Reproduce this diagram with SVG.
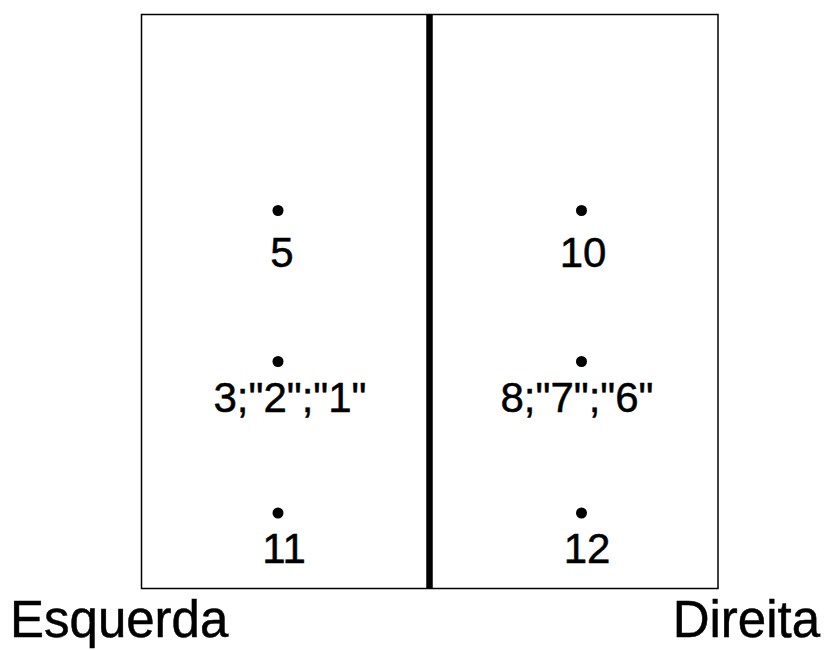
<svg xmlns="http://www.w3.org/2000/svg" width="827" height="650" viewBox="0 0 827 650">
<style>
.lbl{font-family:"Liberation Sans",Arial,sans-serif;font-size:42px;fill:#000;stroke:#000;stroke-width:0.5;text-anchor:middle}
.side{font-family:"Liberation Sans",Arial,sans-serif;font-size:51px;fill:#000;stroke:#000;stroke-width:0.5}
.dot{fill:#000}
</style>
<rect width="827" height="650" fill="#fff"/>
<g id="connectors">
<rect x="141.5" y="14.5" width="576.5" height="574" fill="none" stroke="#000" stroke-width="1.5"/>
<line x1="429.5" y1="14" x2="429.5" y2="589" stroke="#000" stroke-width="6.5"/>
</g>
<g id="n5"><circle class="dot" cx="278" cy="210.5" r="5.5"/><text class="lbl" x="282" y="266.5">5</text></g>
<g id="n10"><circle class="dot" cx="581.5" cy="210.5" r="5.5"/><text class="lbl" x="583" y="266.5">10</text></g>
<g id="n321"><circle class="dot" cx="278" cy="361.5" r="5.5"/><text class="lbl" x="290" y="411.5">3;"2";"1"</text></g>
<g id="n876"><circle class="dot" cx="581.5" cy="361.5" r="5.5"/><text class="lbl" x="577" y="411.5">8;"7";"6"</text></g>
<g id="n11"><circle class="dot" cx="278" cy="513" r="5.5"/><text class="lbl" x="284" y="563">11</text></g>
<g id="n12"><circle class="dot" cx="581.5" cy="513" r="5.5"/><text class="lbl" x="587" y="563">12</text></g>
<g id="esquerda"><text class="side" x="10" y="637" font-size="52">Esquerda</text></g>
<g id="direita"><text class="side" x="820" y="637" text-anchor="end">Direita</text></g>
</svg>
